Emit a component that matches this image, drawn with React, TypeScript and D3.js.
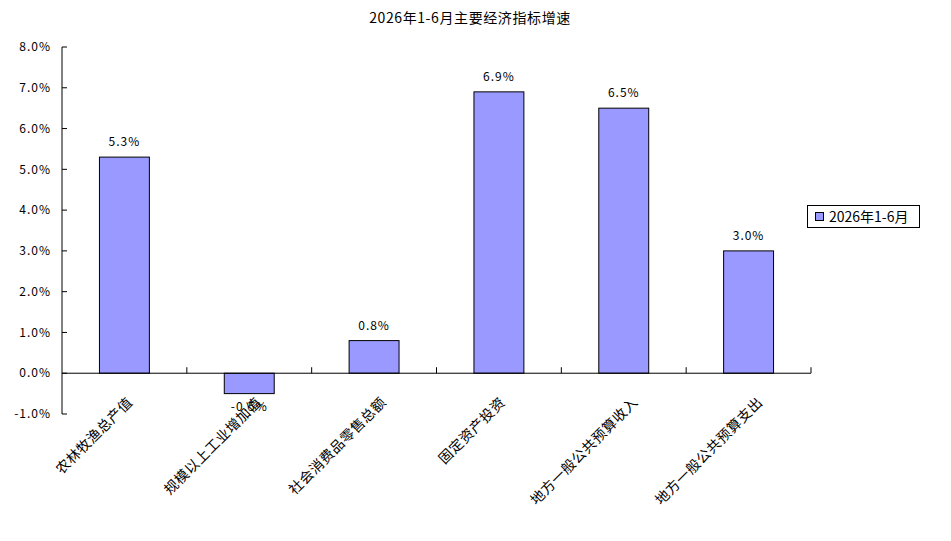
import React from "react";
import * as d3 from "d3";

const categories = ["农林牧渔总产值", "规模以上工业增加值", "社会消费品零售总额", "固定资产投资", "地方一般公共预算收入", "地方一般公共预算支出"];
const values = [5.3, -0.5, 0.8, 6.9, 6.5, 3.0];
const yTicks = [-1, 0, 1, 2, 3, 4, 5, 6, 7, 8];
const seriesName = "2026年1-6月";
const title = "2026年1-6月主要经济指标增速";

const W = 951, H = 541;
const FONT = "'Noto Sans CJK SC', 'DejaVu Sans', sans-serif";

export default function App() {
  const x = d3.scaleBand<string>().domain(categories).range([62, 811]).paddingInner(0).paddingOuter(0);
  const y = d3.scaleLinear().domain([-1, 8]).range([414, 47]);
  const bw = x.bandwidth() * 0.4;
  const y0 = y(0);
  const fmt = (v: number) => v.toFixed(1) + "%";
  return (
    <svg width={W} height={H} style={{ position: "absolute", left: 0, top: 0, background: "#fff" }} fontFamily={FONT}>
      <text x={470} y={23} fontSize={14} letterSpacing={0.6} textAnchor="middle" fill="#000">{title}</text>
      {/* y axis */}
      <line x1={62} x2={62} y1={y(8)} y2={y(-1)} stroke="#000" strokeWidth={1} />
      {yTicks.map((t) => (
        <g key={t}>
          <line x1={62} x2={67} y1={y(t)} y2={y(t)} stroke="#000" />
          <text x={51} y={y(t)} dy="0.35em" fontSize={12} letterSpacing={1} textAnchor="end" fill="#000">{fmt(t)}</text>
        </g>
      ))}
      {/* bars */}
      {categories.map((c, i) => {
        const v = values[i];
        const cx = (x(c) as number) + x.bandwidth() / 2;
        const top = Math.min(y(v), y0);
        const h = Math.abs(y(v) - y0);
        return (
          <g key={c}>
            <rect x={cx - bw / 2} y={top} width={bw} height={h} fill="#9999FF" stroke="#000" strokeWidth={1} />
            <text x={cx} y={v >= 0 ? y(v) - 11 : y(v) + 17} fontSize={12} letterSpacing={1} textAnchor="middle" fill="#000">{fmt(v)}</text>
          </g>
        );
      })}
      {/* x axis */}
      <line x1={62} x2={811} y1={y0} y2={y0} stroke="#000" />
      {categories.map((c) => (
        <line key={c} x1={(x(c) as number) + x.bandwidth()} x2={(x(c) as number) + x.bandwidth()} y1={y0} y2={y0 - 6} stroke="#000" />
      ))}
      {categories.map((c) => {
        const cx = (x(c) as number) + x.bandwidth() / 2;
        const off = 2 * c.length - 5;
        return (
          <text key={c} transform={`translate(${cx + off},${y0 + 30}) rotate(-45)`} fontSize={14} letterSpacing={0.5} textAnchor="end" fill="#000">{c}</text>
        );
      })}
      {/* legend */}
      <rect x={807.5} y={205.5} width={112} height={22} fill="#fff" stroke="#000" />
      <rect x={815.5} y={212.5} width={8} height={8} fill="#9999FF" stroke="#000" />
      <text x={829} y={217} dy="0.35em" fontSize={14} fill="#000">{seriesName}</text>
    </svg>
  );
}
